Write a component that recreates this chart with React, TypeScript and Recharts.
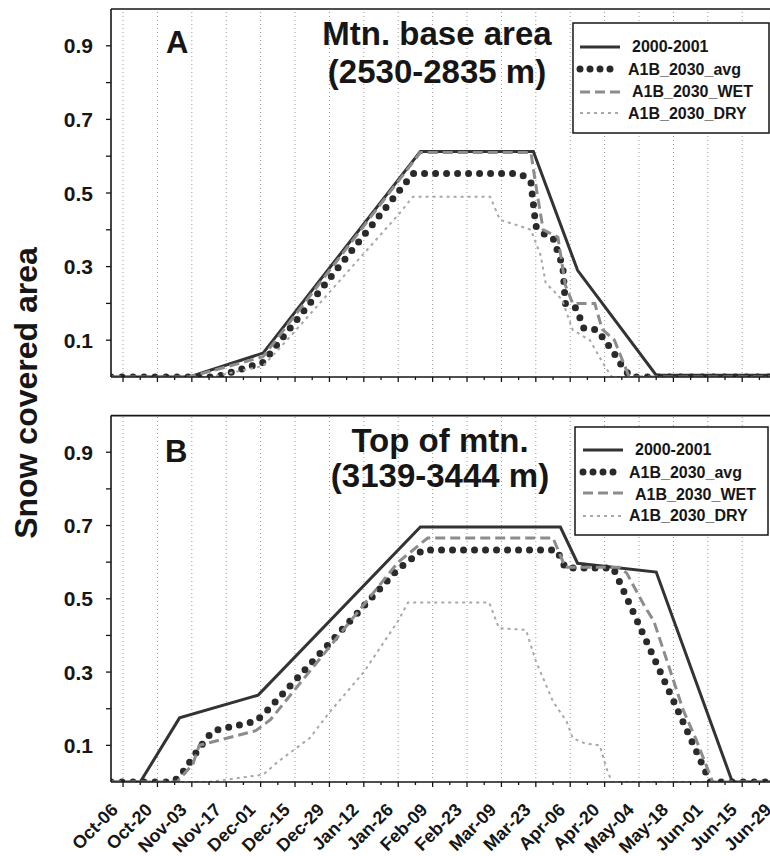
import React from 'react';
import { LineChart, Line, XAxis, YAxis, ReferenceLine } from 'recharts';

// x values are days counted from Oct-06 (2000)
const DATE_LABELS = [
  'Oct-06', 'Oct-20', 'Nov-03', 'Nov-17', 'Dec-01', 'Dec-15', 'Dec-29', 'Jan-12', 'Jan-26', 'Feb-09',
  'Feb-23', 'Mar-09', 'Mar-23', 'Apr-06', 'Apr-20', 'May-04', 'May-18', 'Jun-01', 'Jun-15', 'Jun-29',
];
const MAJOR_DAYS = DATE_LABELS.map((_, i) => i * 14);
const TICK_DAYS = [...MAJOR_DAYS, ...MAJOR_DAYS.map((d) => d + 7)].sort((a, b) => a - b).filter((d) => d < 271);
const Y_TICKS = [0.1, 0.2, 0.3, 0.4, 0.5, 0.6, 0.7, 0.8, 0.9];
const X_DOMAIN = [-4.9, 271.86];

const SERIES_NAMES = ['2000-2001', 'A1B_2030_avg', 'A1B_2030_WET', 'A1B_2030_DRY'];

// panel A: Mtn. base area
const A_OBS = [[-4.9, 0], [27, 0], [57, 0.065], [121, 0.613], [167, 0.613], [185, 0.29], [217, 0.005], [275, 0.005]];
const A_AVG = [
  [-4.9, 0], [38, 0], [57, 0.04], [118, 0.553], [160, 0.553], [163.6, 0.545], [166, 0.53], [168, 0.41],
  [171, 0.39], [175, 0.378], [179, 0.3], [180, 0.2], [184, 0.19], [186, 0.16], [187.5, 0.133], [193, 0.128],
  [199.5, 0.068], [204, 0.02], [207, 0], [275, 0],
];
const A_WET = [
  [-4.9, 0], [27, 0], [57, 0.055], [121, 0.61], [166, 0.61], [168.5, 0.5], [171, 0.4], [177, 0.38],
  [180, 0.25], [183, 0.2], [192, 0.2], [195, 0.13], [200, 0.1], [206, 0], [275, 0],
];
const A_DRY = [
  [-4.9, 0], [36, 0], [57, 0.03], [66.7, 0.1], [112.7, 0.446], [118, 0.49], [149.4, 0.49], [153.4, 0.427],
  [161.6, 0.41], [166, 0.4], [170, 0.33], [172, 0.256], [178.7, 0.21], [183, 0.128], [190, 0.1],
  [196, 0.03], [199, 0], [275, 0],
];

// panel B: Top of mtn.
const B_OBS = [[-4.9, 0], [7, 0], [23, 0.175], [55, 0.237], [121, 0.696], [178, 0.696], [185, 0.597], [217, 0.573], [248, 0], [275, 0]];
const B_AVG = [
  [-4.9, 0], [20, 0], [23, 0.014], [28.5, 0.068], [34, 0.12], [37, 0.14], [54, 0.166], [58, 0.19],
  [111.5, 0.578], [122, 0.633], [176.6, 0.633], [180, 0.584], [199.5, 0.584], [239, 0], [275, 0],
];
const B_WET = [
  [-4.9, 0], [22, 0], [28.5, 0.05], [31, 0.1], [54, 0.14], [60, 0.17], [112, 0.6], [124, 0.666],
  [175, 0.666], [180, 0.586], [202, 0.586], [205, 0.57], [212.5, 0.477], [216, 0.44], [228, 0.196],
  [233, 0.12], [240, 0], [275, 0],
];
const B_DRY = [
  [-4.9, 0], [35, 0], [57, 0.02], [63, 0.055], [68, 0.08], [76, 0.12], [84, 0.19], [98, 0.3], [112, 0.44],
  [116, 0.49], [149, 0.49], [153, 0.42], [164, 0.415], [168, 0.33], [175, 0.22], [180.6, 0.164], [183, 0.12],
  [188, 0.105], [194, 0.1], [197, 0.033], [199, 0], [275, 0],
];

const FONT = "'Liberation Sans', Arial, Helvetica, sans-serif";
const INK = '#161616';

const STYLES: any[] = [
  { stroke: '#333', strokeWidth: 3 },
  { stroke: '#2a2a2a', strokeWidth: 7, strokeDasharray: '0 11', strokeLinecap: 'round' },
  { stroke: '#8c8c8c', strokeWidth: 3, strokeDasharray: '10 5' },
  { stroke: '#a8a8a8', strokeWidth: 2, strokeDasharray: '3 4' },
];

const toPts = (arr: number[][]) => arr.map(([day, v]) => ({ day, v }));

function YTick({ x, y, payload }: any) {
  const odd = Math.round(payload.value * 10) % 2 === 1;
  if (!odd) return <g />;
  return (
    <text x={x} y={y} dy="0.36em" textAnchor="end" fontSize={21} fontWeight="bold" fill={INK} fontFamily={FONT}>
      {payload.value.toFixed(1)}
    </text>
  );
}

function XTick({ x, y, payload, showLabels }: any) {
  const idx = MAJOR_DAYS.indexOf(payload.value);
  const major = idx >= 0;
  const px = x - 4;
  const py = y + 29;
  return (
    <g>
      <line x1={x} x2={x} y1={y} y2={y + (major ? 5 : 3)} stroke={INK} strokeWidth={1.3} />
      {showLabels && major && (
        <text x={px} y={py} textAnchor="end" fontSize={18} fontWeight="bold" fill={INK} fontFamily={FONT}
          transform={`rotate(-45, ${px}, ${py})`}>
          {DATE_LABELS[idx]}
        </text>
      )}
    </g>
  );
}

function Panel({ top, height, marginTop, xAxisHeight, series, showLabels }: any) {
  return (
    <div style={{ position: 'absolute', left: 0, top }}>
      <LineChart width={800} height={height} margin={{ top: marginTop, right: 9, bottom: 0, left: 0 }}>
        <XAxis type="number" dataKey="day" domain={X_DOMAIN} allowDataOverflow ticks={TICK_DAYS} interval={0}
          tickSize={0} tickMargin={0} tickLine={false} height={xAxisHeight}
          axisLine={{ stroke: INK, strokeWidth: 1.6 }}
          tick={(p: any) => <XTick {...p} showLabels={showLabels} />} />
        <YAxis type="number" domain={[0, 1]} allowDataOverflow ticks={Y_TICKS} interval={0} width={111}
          tickSize={5} tickMargin={13} axisLine={{ stroke: INK, strokeWidth: 1.6 }} tickLine={{ stroke: INK, strokeWidth: 1.3 }}
          tick={(p: any) => <YTick {...p} />} />
        {MAJOR_DAYS.map((d) => (
          <ReferenceLine key={d} x={d} stroke="#9a9a9a" strokeDasharray="1 3" strokeWidth={1} />
        ))}
        <ReferenceLine y={1} stroke={INK} strokeWidth={1.6} />
        {series.map((s: number[][], i: number) => (
          <Line key={SERIES_NAMES[i]} name={SERIES_NAMES[i]} data={toPts(s)} dataKey="v" type="linear"
            dot={false} activeDot={false} isAnimationActive={false} {...STYLES[i]} />
        ))}
      </LineChart>
    </div>
  );
}

function LegendBox({ x, y, w, h, rows }: any) {
  return (
    <g>
      <rect x={x} y={y} width={w} height={h} fill="#fff" stroke={INK} strokeWidth={1.5} />
      {rows.map((r: any, i: number) => {
        const st = STYLES[i];
        return (
          <g key={i}>
            <line x1={r.sx} x2={r.sx + 40} y1={r.sy} y2={r.sy} stroke={st.stroke}
              strokeWidth={i === 1 ? 7 : st.strokeWidth} strokeDasharray={i === 1 ? '0 10' : st.strokeDasharray}
              strokeLinecap={st.strokeLinecap || 'butt'} />
            <text x={r.tx} y={r.ty} fontSize={16} fontWeight="bold" fill={INK} fontFamily={FONT}>
              {SERIES_NAMES[i]}
            </text>
          </g>
        );
      })}
    </g>
  );
}

export default function App() {
  return (
    <div style={{ position: 'absolute', left: 0, top: 0, width: 770, height: 856, overflow: 'hidden', background: '#fff', fontFamily: FONT }}>
      <Panel top={0} height={400} marginTop={9} xAxisHeight={23} series={[A_OBS, A_AVG, A_WET, A_DRY]} showLabels={false} />
      <Panel top={400} height={456} marginTop={15.6} xAxisHeight={74} series={[B_OBS, B_AVG, B_WET, B_DRY]} showLabels />
      <svg width={770} height={856} style={{ position: 'absolute', left: 0, top: 0, pointerEvents: 'none' }}>
        <text x={37} y={393} transform="rotate(-90, 37, 393)" textAnchor="middle" fontSize={32} fontWeight="bold"
          fill={INK} fontFamily={FONT}>Snow covered area</text>

        <text x={166} y={53} fontSize={31} fontWeight="bold" fill={INK} fontFamily={FONT}>A</text>
        <text x={437} y={45} textAnchor="middle" fontSize={33} fontWeight="bold" fill={INK} fontFamily={FONT}>Mtn. base area</text>
        <text x={437} y={83} textAnchor="middle" fontSize={33} fontWeight="bold" fill={INK} fontFamily={FONT}>(2530-2835 m)</text>
        <LegendBox x={573} y={23} w={196} h={110} rows={[
          { sx: 580, sy: 47, tx: 632, ty: 52 },
          { sx: 580, sy: 69, tx: 628, ty: 75 },
          { sx: 580, sy: 92, tx: 632, ty: 97 },
          { sx: 580, sy: 113, tx: 628, ty: 119 },
        ]} />

        <text x={165} y={462} fontSize={31} fontWeight="bold" fill={INK} fontFamily={FONT}>B</text>
        <text x={440} y={452} textAnchor="middle" fontSize={33} fontWeight="bold" fill={INK} fontFamily={FONT}>Top of mtn.</text>
        <text x={440} y={487} textAnchor="middle" fontSize={33} fontWeight="bold" fill={INK} fontFamily={FONT}>(3139-3444 m)</text>
        <LegendBox x={575} y={427} w={193} h={108} rows={[
          { sx: 583, sy: 450, tx: 635, ty: 455 },
          { sx: 583, sy: 472, tx: 629, ty: 478 },
          { sx: 583, sy: 493, tx: 635, ty: 500 },
          { sx: 583, sy: 516, tx: 629, ty: 521 },
        ]} />
      </svg>
    </div>
  );
}
